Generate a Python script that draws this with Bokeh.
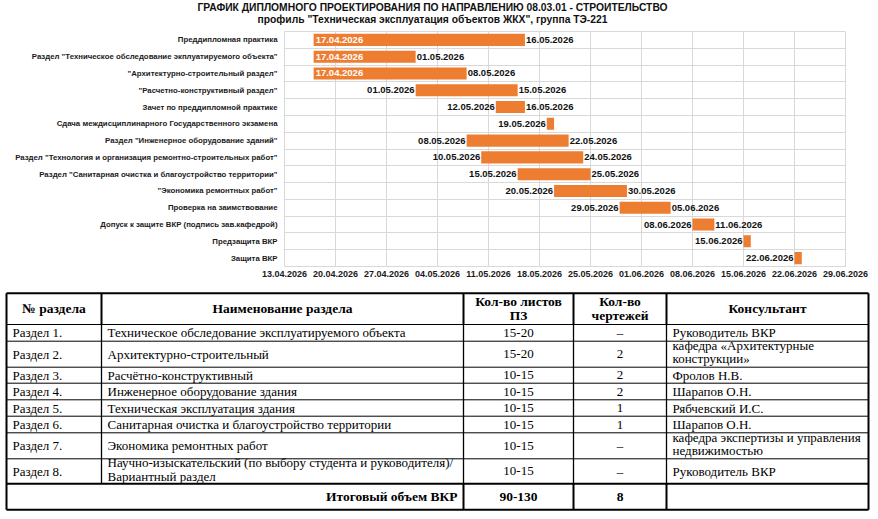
from datetime import datetime
from bokeh.plotting import figure
from bokeh.models import Range1d, FixedTicker, DatetimeTickFormatter, ColumnDataSource
from bokeh.embed import file_html
from bokeh.resources import INLINE
from bokeh.core.properties import value

# ---------------- data ----------------
title_lines = [
    "ГРАФИК ДИПЛОМНОГО ПРОЕКТИРОВАНИЯ ПО НАПРАВЛЕНИЮ 08.03.01 - СТРОИТЕЛЬСТВО",
    'профиль "Техническая эксплуатация объектов ЖКХ", группа ТЭ-221',
]

tasks = [
    "Преддипломная практика",
    'Раздел "Техническое обследование экплуатируемого объекта"',
    '"Архитектурно-строительный раздел"',
    '"Расчетно-конструктивный раздел"',
    "Зачет по преддипломной практике",
    "Сдача междисциплинарного Государственного экзамена",
    'Раздел "Инженерное оборудование зданий"',
    'Раздел "Технология и организация ремонтно-строительных работ"',
    'Раздел "Санитарная очистка и благоустройство территории"',
    '"Экономика ремонтных работ"',
    "Проверка на заимствование",
    "Допуск к защите ВКР (подпись зав.кафедрой)",
    "Предзащита ВКР",
    "Защита ВКР",
]
start_dates = ["17.04.2026", "17.04.2026", "17.04.2026", "01.05.2026", "12.05.2026",
               "19.05.2026", "08.05.2026", "10.05.2026", "15.05.2026", "20.05.2026",
               "29.05.2026", "08.06.2026", "15.06.2026", "22.06.2026"]
end_dates = ["16.05.2026", "01.05.2026", "08.05.2026", "15.05.2026", "16.05.2026",
             "20.05.2026", "22.05.2026", "24.05.2026", "25.05.2026", "30.05.2026",
             "05.06.2026", "11.06.2026", "16.06.2026", "23.06.2026"]
end_label_shown = [True, True, True, True, True, False, True, True, True, True,
                   True, True, False, False]
start_label_inside = [True, True, True, False, False, False, False, False, False,
                      False, False, False, False, False]

axis_start = "13.04.2026"
axis_end = "29.06.2026"
axis_ticks = ["13.04.2026", "20.04.2026", "27.04.2026", "04.05.2026", "11.05.2026",
              "18.05.2026", "25.05.2026", "01.06.2026", "08.06.2026", "15.06.2026",
              "22.06.2026", "29.06.2026"]

table_header = ["№ раздела", "Наименование раздела", "Кол-во листов\nПЗ",
                "Кол-во\nчертежей", "Консультант"]
section_no = ["Раздел 1.", "Раздел 2.", "Раздел 3.", "Раздел 4.",
              "Раздел 5.", "Раздел 6.", "Раздел 7.", "Раздел 8."]
section_name = [
    "Техническое обследование эксплуатируемого объекта",
    "Архитектурно-строительный",
    "Расчётно-конструктивный",
    "Инженерное оборудование здания",
    "Техническая эксплуатация здания",
    "Санитарная очистка и благоустройство территории",
    "Экономика ремонтных работ",
    "Научно-изыскательский (по выбору студента и руководителя)/\nВариантный раздел",
]
sheets_pz = ["15-20", "15-20", "10-15", "10-15", "10-15", "10-15", "10-15", "10-15"]
drawings = ["–", "2", "2", "2", "1", "1", "–", "–"]
consultants = [
    "Руководитель ВКР",
    "кафедра «Архитектурные\nконструкции»",
    "Фролов Н.В.",
    "Шарапов О.Н.",
    "Рябчевский И.С.",
    "Шарапов О.Н.",
    "кафедра экспертизы и управления\nнедвижимостью",
    "Руководитель ВКР",
]
total_label = "Итоговый объем ВКР"
total_sheets = "90-130"
total_drawings = "8"

# ---------------- helpers ----------------
def d(s):
    return datetime.strptime(s, "%d.%m.%Y")

epoch = datetime(1970, 1, 1)
def ms(dt):
    return (dt - epoch).total_seconds() * 1000.0

ORANGE = "#ED7D31"
GRID = "#d9d9d9"
SANS = "Liberation Sans"
SERIF = "Liberation Serif"
W = 872

def blank_fig(h):
    f = figure(width=W, height=h, x_range=Range1d(0, W), y_range=Range1d(h, 0),
               output_backend="svg", toolbar_location=None, min_border=0)
    f.axis.visible = False
    f.grid.visible = False
    f.outline_line_color = None
    f.background_fill_color = "white"
    f.border_fill_color = "white"
    return f

# ---------------- title ----------------
tt = blank_fig(31)
tt.text(x=[432, 432], y=[6.5, 18.5], text=title_lines, text_align="center",
        text_baseline="middle", text_font=value(SANS), text_font_size="10.3px",
        text_font_style="bold", text_color="#111111")

# ---------------- gantt ----------------
n = len(tasks)
ys = list(range(n))
starts = [d(s) for s in start_dates]
ends = [d(s) for s in end_dates]

p = figure(width=W, height=257,
           x_range=Range1d(d(axis_start), d(axis_end)),
           y_range=Range1d(n - 0.5, -0.5),
           output_backend="svg", toolbar_location=None,
           min_border_left=284, min_border_right=W - 284 - 561,
           min_border_top=0, min_border_bottom=22)
p.outline_line_color = GRID
p.background_fill_color = "white"
p.border_fill_color = "white"

bar_src = ColumnDataSource(dict(y=ys, left=starts, right=ends))
p.hbar(y="y", left="left", right="right", height=0.72, source=bar_src,
       fill_color=ORANGE, line_color=None)

in_idx = [i for i in range(n) if start_label_inside[i]]
out_idx = [i for i in range(n) if not start_label_inside[i]]
e_idx = [i for i in range(n) if end_label_shown[i]]
src_in = ColumnDataSource(dict(x=[starts[i] for i in in_idx], y=[ys[i] for i in in_idx],
                               t=[start_dates[i] for i in in_idx]))
src_out = ColumnDataSource(dict(x=[starts[i] for i in out_idx], y=[ys[i] for i in out_idx],
                                t=[start_dates[i] for i in out_idx]))
src_end = ColumnDataSource(dict(x=[ends[i] for i in e_idx], y=[ys[i] for i in e_idx],
                                t=[end_dates[i] for i in e_idx]))
lab_kw = dict(text="t", text_font=value(SANS), text_font_size="9.5px",
              text_font_style="bold", text_baseline="middle")
p.text(x="x", y="y", source=src_in, text_align="left", x_offset=2,
       text_color="white", **lab_kw)
p.text(x="x", y="y", source=src_out, text_align="right", x_offset=-1,
       text_color="#111111", **lab_kw)
p.text(x="x", y="y", source=src_end, text_align="left", x_offset=1,
       text_color="#111111", **lab_kw)

tick_ms = [ms(d(t)) for t in axis_ticks]
p.xaxis.ticker = FixedTicker(ticks=tick_ms)
fmt = "%d.%m.%Y"
p.xaxis.formatter = DatetimeTickFormatter(days=fmt, months=fmt, years=fmt, hours=fmt,
                                          hourmin=fmt, minutes=fmt, minsec=fmt,
                                          seconds=fmt, milliseconds=fmt, microseconds=fmt)
p.xgrid.ticker = FixedTicker(ticks=tick_ms)
p.ygrid.ticker = FixedTicker(ticks=[i - 0.5 for i in range(n + 1)])
p.grid.grid_line_color = GRID
p.grid.grid_line_width = 1

p.yaxis.ticker = FixedTicker(ticks=ys)
p.yaxis.major_label_overrides = {i: t for i, t in enumerate(tasks)}

for ax in (p.xaxis[0], p.yaxis[0]):
    ax.axis_line_color = None
    ax.major_tick_line_color = None
    ax.minor_tick_line_color = None
    ax.major_tick_out = 0
    ax.major_tick_in = 0
    ax.major_label_text_font = SANS
    ax.major_label_text_font_style = "bold"
    ax.major_label_text_color = "#1a1a1a"
p.yaxis.major_label_text_font_size = "7.8px"
p.yaxis.major_label_standoff = 7
p.xaxis.major_label_text_font_size = "9px"
p.xaxis.major_label_standoff = 4

# ---------------- table ----------------
TH = 227
t = blank_fig(TH)

col_w = [95, 362, 110, 93, 202]
row_h = [31.3, 16.7, 26, 16, 16.6, 16.4, 16.6, 26, 25, 26]
X0, Y0 = 6, 4.7
xb = [X0]
for w in col_w:
    xb.append(xb[-1] + w)
yb = [Y0]
for h in row_h:
    yb.append(yb[-1] + h)
nrows = len(row_h)

seg = dict(x0=[], y0=[], x1=[], y1=[], w=[])
def add(x0, y0, x1, y1, w):
    seg["x0"].append(x0); seg["y0"].append(y0)
    seg["x1"].append(x1); seg["y1"].append(y1); seg["w"].append(w)

for k, y in enumerate(yb):
    if k in (0, nrows, nrows - 1):
        w = 2
    elif k == 1:
        w = 1.2
    else:
        w = 1
    add(xb[0], y, xb[-1], y, w)
add(xb[0], yb[0], xb[0], yb[-1], 2)
add(xb[-1], yb[0], xb[-1], yb[-1], 2)
for c in range(1, len(xb) - 1):
    add(xb[c], yb[0], xb[c], yb[1], 2)
    add(xb[c], yb[1], xb[c], yb[-2], 1.3)
    if c >= 2:
        add(xb[c], yb[-2], xb[c], yb[-1], 2)
t.segment(x0="x0", y0="y0", x1="x1", y1="y1", line_width="w",
          line_color="black", source=ColumnDataSource(seg))

PAD = 6
MULTI_SHIFT = -2.0
cells = dict(x=[], y=[], t=[])
cells_c = dict(x=[], y=[], t=[])
head = dict(x=[], y=[], t=[])
totb = dict(x=[], y=[], t=[])
totr = dict(x=[], y=[], t=[])

for c, h in enumerate(table_header):
    head["x"].append((xb[c] + xb[c + 1]) / 2)
    head["y"].append((yb[0] + yb[1]) / 2)
    head["t"].append(h)

for r in range(len(section_no)):
    ym = (yb[r + 1] + yb[r + 2]) / 2
    for c, txt in ((0, section_no[r]), (1, section_name[r]), (4, consultants[r])):
        yy = ym + (MULTI_SHIFT if "\n" in txt else 0)
        cells["x"].append(xb[c] + PAD); cells["y"].append(yy); cells["t"].append(txt)
    for c, txt in ((2, sheets_pz[r]), (3, drawings[r])):
        cells_c["x"].append((xb[c] + xb[c + 1]) / 2); cells_c["y"].append(ym)
        cells_c["t"].append(txt)

ym = (yb[-2] + yb[-1]) / 2
totr["x"].append(xb[2] - PAD); totr["y"].append(ym); totr["t"].append(total_label)
for c, txt in ((2, total_sheets), (3, total_drawings)):
    totb["x"].append((xb[c] + xb[c + 1]) / 2); totb["y"].append(ym); totb["t"].append(txt)

tk = dict(text="t", text_font=value(SERIF), text_baseline="middle", text_color="black")
t.text(x="x", y="y", source=ColumnDataSource(cells), text_align="left",
       text_font_size="13px", text_line_height=0.9, **tk)
t.text(x="x", y="y", source=ColumnDataSource(cells_c), text_align="center",
       text_font_size="13px", **tk)
t.text(x="x", y="y", source=ColumnDataSource(head), text_align="center",
       text_font_style="bold", text_font_size="13.5px", text_line_height=0.95, **tk)
t.text(x="x", y="y", source=ColumnDataSource(totr), text_align="right",
       text_font_style="bold", text_font_size="13.5px", **tk)
t.text(x="x", y="y", source=ColumnDataSource(totb), text_align="center",
       text_font_style="bold", text_font_size="13.5px", **tk)

open("out.html", "w").write(file_html([tt, p, t], INLINE))
